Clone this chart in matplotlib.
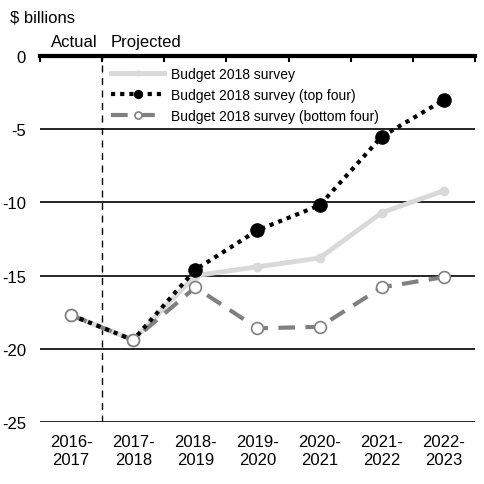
import numpy as np
import matplotlib.pyplot as plt

plt.rcParams['font.family'] = ['Liberation Sans', 'DejaVu Sans']

years = ['2016-\n2017', '2017-\n2018', '2018-\n2019', '2019-\n2020',
         '2020-\n2021', '2021-\n2022', '2022-\n2023']
survey = [-17.7, -19.4, -15.0, -14.4, -13.8, -10.7, -9.2]
top_four = [-17.7, -19.4, -14.6, -11.9, -10.2, -5.5, -3.0]
bottom_four = [-17.7, -19.4, -15.8, -18.6, -18.5, -15.8, -15.1]

x = np.arange(len(years))

fig = plt.figure(figsize=(4.84, 4.85), dpi=100)
ax = fig.add_axes([40 / 484, 1 - 423 / 485, 435 / 484, 366 / 485])

# gridlines
for v in [-5, -10, -15, -20, -25]:
    ax.axhline(v, color='black', lw=1.2, zorder=0.5)
ax.axhline(0, color='black', lw=3, zorder=5, clip_on=False)
for b in np.arange(-0.5, 7, 1):
    ax.plot([b, b], [0, -0.35], color='black', lw=1.5, zorder=5, clip_on=False)

ax.axvline(0.5, color='black', lw=1, ls=(0, (5, 4)), zorder=0.6)

ax.plot(x, survey, color='#d9d9d9', lw=3.5, marker='o', ms=6,
        markevery=list(range(2, 7)), zorder=1, label='Budget 2018 survey')
ax.plot(x, bottom_four, color='#808080', lw=3, ls=(0, (4, 2.5)), marker='o', ms=8.5,
        mfc='white', mec='#808080', mew=1.2, zorder=2,
        label='Budget 2018 survey (bottom four)')
ax.plot(x, top_four, color='black', lw=3, ls=(0, (1, 1.2)), marker='o', ms=9.5,
        markevery=list(range(2, 7)), zorder=3,
        label='Budget 2018 survey (top four)')
ax.plot(x[:2], bottom_four[:2], ls='none', marker='o', ms=8.5, mfc='white',
        mec='#808080', mew=1.2, zorder=4)

h, l = ax.get_legend_handles_labels()
order = [0, 2, 1]
ax.legend([h[i] for i in order], [l[i] for i in order], loc='upper left',
          bbox_to_anchor=(0.135, 1.005), frameon=False, fontsize=10,
          handlelength=3.8, handletextpad=0.5, labelspacing=0.5, markerscale=0.6)

ax.set_xlim(-0.5, 6.5)
ax.set_ylim(-25, 0)
ax.set_yticks([0, -5, -10, -15, -20, -25])
ax.set_yticklabels(['0', '-5', '-10', '-15', '-20', '-25'])
ax.set_xticks(x)
ax.set_xticklabels(years)
ax.tick_params(axis='both', length=0, labelsize=12)
ax.tick_params(axis='x', pad=9)
ax.tick_params(axis='y', pad=10)
for s in ax.spines.values():
    s.set_visible(False)

ax.text(0.05, 0.5, 'Actual', fontsize=12, ha='center', va='bottom')
ax.text(0.63, 0.5, 'Projected', fontsize=12, ha='left', va='bottom')
fig.text(10 / 484, 1 - 18 / 485, '$ billions', fontsize=12, ha='left', va='center')

fig.savefig('out.png', dpi=100)
